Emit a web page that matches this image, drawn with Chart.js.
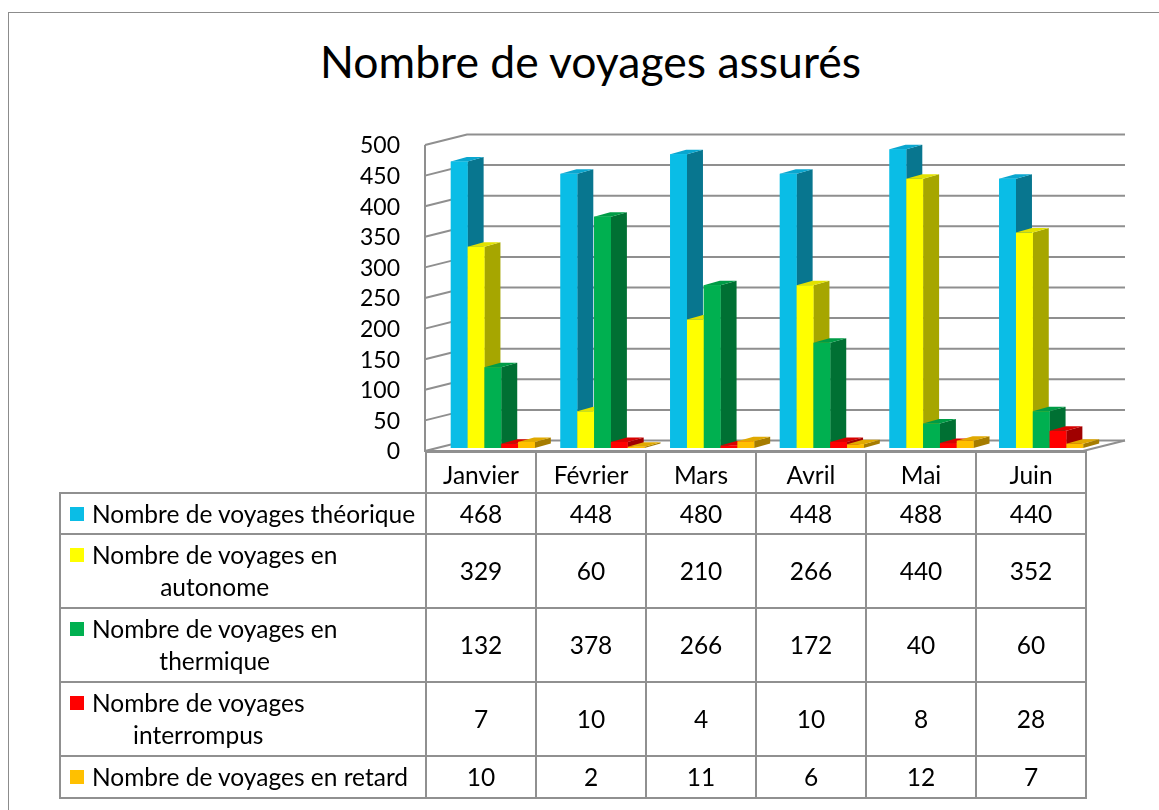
<!DOCTYPE html>
<html>
<head>
<meta charset="utf-8">
<script src="https://cdn.jsdelivr.net/npm/chart.js@4.4.1/dist/chart.umd.min.js"></script>
<style>
body { margin: 0; width: 1159px; height: 810px; overflow: hidden; background: #fff; font-family: Lato, sans-serif; position: relative; color: #000; }
.frame { position: absolute; left: 8px; top: 12px; width: 1300px; height: 900px; border: 1px solid #8c8c8c; }
.title { position: absolute; left: 0; width: 1181px; top: 36px; text-align: center; font-size: 44.5px; line-height: 50px; }
.plot { position: absolute; left: 0; top: 100px; width: 1159px; height: 370px; }
#dataTable { position: absolute; left: 59px; top: 451px; border-collapse: collapse; table-layout: fixed; font-size: 24.5px; }
#dataTable td { border: 2px solid #909090; padding: 0; text-align: center; line-height: 32px; }
#dataTable tr.head td { padding-top: 4px; }
#dataTable td.corner { border-top: none; border-left: none; }
#dataTable td.lbl { text-align: left; padding-left: 9px; white-space: nowrap; }
.sw { display: inline-block; width: 14px; height: 14px; margin: 9px 8px 0 0; vertical-align: top; }
.txt { display: inline-block; text-align: center; vertical-align: top; }
</style>
</head>
<body>
<div class="frame"></div>
<div class="title">Nombre de voyages assurés</div>
<div class="plot"><canvas id="chart" width="1159" height="370"></canvas></div>
<table id="dataTable"></table>
<script>
const categories = ['Janvier', 'Février', 'Mars', 'Avril', 'Mai', 'Juin'];
const theorique = [468, 448, 480, 448, 488, 440];
const autonome = [329, 60, 210, 266, 440, 352];
const thermique = [132, 378, 266, 172, 40, 60];
const interrompus = [7, 10, 4, 10, 8, 28];
const retard = [10, 2, 11, 6, 12, 7];
const seriesLines = [
    ['Nombre de voyages théorique'],
    ['Nombre de voyages en', 'autonome'],
    ['Nombre de voyages en', 'thermique'],
    ['Nombre de voyages', 'interrompus'],
    ['Nombre de voyages en retard']
];
const seriesValues = [theorique, autonome, thermique, interrompus, retard];
const yTicks = { min: 0, max: 500, step: 50 };

const frontColors = ['#0abde6', '#ffff00', '#00b050', '#ff0000', '#ffc000'];
const topColors = ['#0aa6cf', '#e2e200', '#009c46', '#d80000', '#e0a900'];
const sideColors = ['#08768f', '#a6a600', '#007033', '#a00000', '#a67c00'];

// 3d offsets
const DX = 16, DY = -4.5;          // depth of a bar
const WALL_DX = 42, WALL_DY = -10.5; // depth of the box
const FRONT_DX = -13, FRONT_DY = 3;  // front of box relative to the bars

const box3d = {
    id: 'box3d',
    beforeDatasetsDraw(chart) {
        const { ctx, chartArea: a, scales: { y } } = chart;
        const fl = a.left + FRONT_DX, fr = a.right + FRONT_DX;
        ctx.save();
        ctx.strokeStyle = '#8f8f8f';
        ctx.lineWidth = 2;
        y.ticks.forEach(t => {
            const yf = y.getPixelForValue(t.value) + FRONT_DY;
            ctx.beginPath();
            ctx.moveTo(fl, yf);
            ctx.lineTo(fl + WALL_DX, yf + WALL_DY);
            ctx.lineTo(fr + WALL_DX, yf + WALL_DY);
            ctx.stroke();
        });
        const top = y.getPixelForValue(y.max) + FRONT_DY;
        const bot = y.getPixelForValue(0) + FRONT_DY;
        ctx.beginPath();
        ctx.moveTo(fl, top);
        ctx.lineTo(fl, bot);
        ctx.lineTo(fr, bot);
        ctx.lineTo(fr + WALL_DX, bot + WALL_DY);
        ctx.stroke();

        // tick labels on the front plane
        ctx.fillStyle = '#000';
        ctx.font = '23px Lato';
        ctx.textAlign = 'right';
        ctx.textBaseline = 'middle';
        y.ticks.forEach(t => {
            ctx.fillText(t.label, fl - 25, y.getPixelForValue(t.value) + FRONT_DY + 1);
        });
        ctx.restore();
    },
    afterDatasetsDraw(chart) {
        const ctx = chart.ctx;
        const metas = chart.data.datasets.map((d, i) => chart.getDatasetMeta(i));
        ctx.save();
        categories.forEach((c, ci) => {
            metas.forEach((m, i) => {
                const bar = m.data[ci];
                const l = bar.x - bar.width / 2, r = bar.x + bar.width / 2;
                // side
                ctx.fillStyle = sideColors[i];
                ctx.beginPath();
                ctx.moveTo(r, bar.base);
                ctx.lineTo(r + DX, bar.base + DY);
                ctx.lineTo(r + DX, bar.y + DY);
                ctx.lineTo(r, bar.y);
                ctx.closePath();
                ctx.fill();
                // top
                ctx.fillStyle = topColors[i];
                ctx.beginPath();
                ctx.moveTo(l, bar.y);
                ctx.lineTo(l + DX, bar.y + DY);
                ctx.lineTo(r + DX, bar.y + DY);
                ctx.lineTo(r, bar.y);
                ctx.closePath();
                ctx.fill();
                // front
                ctx.fillStyle = frontColors[i];
                ctx.fillRect(l, bar.y, r - l, bar.base - bar.y);
            });
        });
        ctx.restore();
    }
};

new Chart(document.getElementById('chart'), {
    type: 'bar',
    data: {
        labels: categories,
        datasets: seriesValues.map((vals, i) => ({
            label: seriesLines[i].join(' '),
            data: vals,
            backgroundColor: frontColors[i],
            borderWidth: 0,
            categoryPercentage: 0.766,
            barPercentage: 1
        }))
    },
    options: {
        responsive: false,
        animation: false,
        devicePixelRatio: 1,
        layout: { autoPadding: false, padding: { top: 42, bottom: 22, left: 0, right: 63 } },
        plugins: { legend: { display: false }, tooltip: { enabled: false } },
        scales: {
            x: { display: false },
            y: {
                min: yTicks.min,
                max: yTicks.max,
                afterFit(scale) { scale.width = 438; },
                grid: { display: false, drawTicks: false },
                border: { display: false },
                ticks: { stepSize: yTicks.step, display: false }
            }
        }
    },
    plugins: [box3d]
});

// data table under the chart
const table = document.getElementById('dataTable');
const colgroup = document.createElement('colgroup');
colgroup.innerHTML = '<col style="width:366px">' + categories.map(() => '<col style="width:110px">').join('');
table.appendChild(colgroup);

const head = document.createElement('tr');
head.className = 'head';
head.style.height = '41px';
head.innerHTML = '<td class="corner"></td>' + categories.map(c => `<td>${c}</td>`).join('');
table.appendChild(head);

const rowHeights = [41, 74, 74, 74, 42];
seriesValues.forEach((vals, i) => {
    const tr = document.createElement('tr');
    tr.style.height = rowHeights[i] + 'px';
    tr.innerHTML = `<td class="lbl"><span class="sw" style="background:${frontColors[i]}"></span><span class="txt">${seriesLines[i].join('<br>')}</span></td>` +
        vals.map(v => `<td>${v}</td>`).join('');
    table.appendChild(tr);
});
</script>
</body>
</html>
